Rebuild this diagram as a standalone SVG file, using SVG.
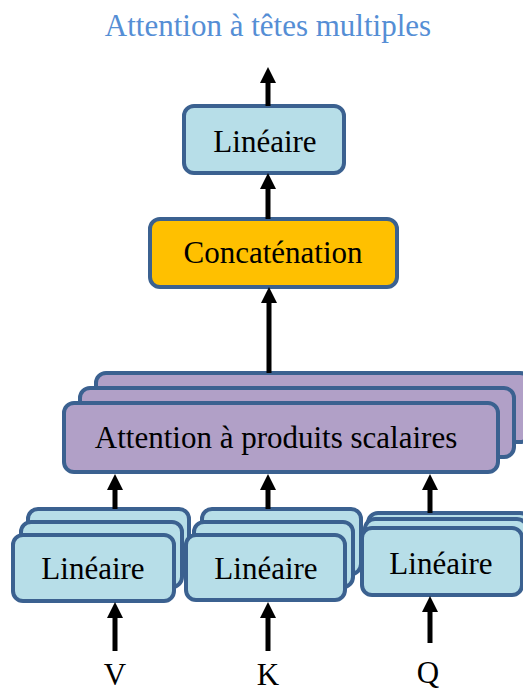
<svg xmlns="http://www.w3.org/2000/svg" width="523" height="692" viewBox="0 0 523 692">
<defs>
<style>
.box{stroke:#3B6190;stroke-width:4}
.lin{fill:#B7DEE8}
.att{fill:#B1A0C7}
.cat{fill:#FFC000}
.t{font-family:'Liberation Serif','Times New Roman',Times,'DejaVu Serif',serif;font-size:31px;fill:#000;text-anchor:middle}
.title{font-family:'Liberation Serif','Times New Roman',Times,'DejaVu Serif',serif;font-size:31px;fill:#558ED5;text-anchor:middle}
.arr{stroke:#000;stroke-width:5;fill:none;marker-end:url(#ah)}
</style>
<marker id="ah" markerUnits="userSpaceOnUse" markerWidth="16" markerHeight="16" refX="8" refY="8" orient="auto">
<path d="M0,0 L16,8 L0,16 z" fill="#000"/>
</marker>
</defs>
<rect width="523" height="692" fill="#fff"/>
<text class="title" x="268" y="36" font-family="Liberation Serif, serif">Attention à têtes multiples</text>

<g id="linear-out">
<rect class="box lin" x="184" y="106" width="160" height="67" rx="10"/>
<text class="t" x="265" y="152" font-family="Liberation Serif, serif">Linéaire</text>
</g>

<g id="concat">
<rect class="box cat" x="150" y="219" width="247" height="68" rx="10"/>
<text class="t" x="273" y="263" font-family="Liberation Serif, serif">Concaténation</text>
</g>

<g id="attention">
<rect class="box att" x="96" y="373" width="434" height="69" rx="10"/>
<rect class="box att" x="80" y="388" width="434" height="69" rx="10"/>
<rect class="box att" x="64" y="403" width="434" height="69" rx="10"/>
<text class="t" x="276" y="448" font-family="Liberation Serif, serif">Attention à produits scalaires</text>
</g>

<g id="linear-v">
<rect class="box lin" x="28" y="509" width="161" height="65" rx="10"/>
<rect class="box lin" x="21" y="522" width="161" height="65" rx="10"/>
<rect class="box lin" x="13" y="535" width="161" height="66" rx="10"/>
<text class="t" x="93" y="579" font-family="Liberation Serif, serif">Linéaire</text>
</g>

<g id="linear-k">
<rect class="box lin" x="202" y="509" width="159" height="65" rx="10"/>
<rect class="box lin" x="194" y="522" width="159" height="65" rx="10"/>
<rect class="box lin" x="186" y="535" width="159" height="65" rx="10"/>
<text class="t" x="266" y="579" font-family="Liberation Serif, serif">Linéaire</text>
</g>

<g id="linear-q">
<rect class="box lin" x="368" y="513" width="162" height="67" rx="10"/>
<rect class="box lin" x="365" y="519" width="162" height="67" rx="10"/>
<rect class="box lin" x="362" y="528" width="160" height="67" rx="10"/>
<text class="t" x="441" y="574" font-family="Liberation Serif, serif">Linéaire</text>
</g>

<g id="connectors">
<line class="arr" x1="268" y1="106" x2="268" y2="75"/>
<line class="arr" x1="268" y1="219" x2="268" y2="181"/>
<line class="arr" x1="269" y1="373" x2="269" y2="295"/>
<line class="arr" x1="115" y1="509" x2="115" y2="482"/>
<line class="arr" x1="268" y1="509" x2="268" y2="482"/>
<line class="arr" x1="430" y1="513" x2="430" y2="482"/>
<line class="arr" x1="115" y1="651" x2="115" y2="610"/>
<line class="arr" x1="268" y1="651" x2="268" y2="610"/>
<line class="arr" x1="430" y1="643" x2="430" y2="604"/>
</g>

<g id="inputs">
<text class="t" x="115" y="685" font-family="Liberation Serif, serif">V</text>
<text class="t" x="268" y="685" font-family="Liberation Serif, serif">K</text>
<text class="t" x="428" y="683" font-family="Liberation Serif, serif">Q</text>
</g>
</svg>
